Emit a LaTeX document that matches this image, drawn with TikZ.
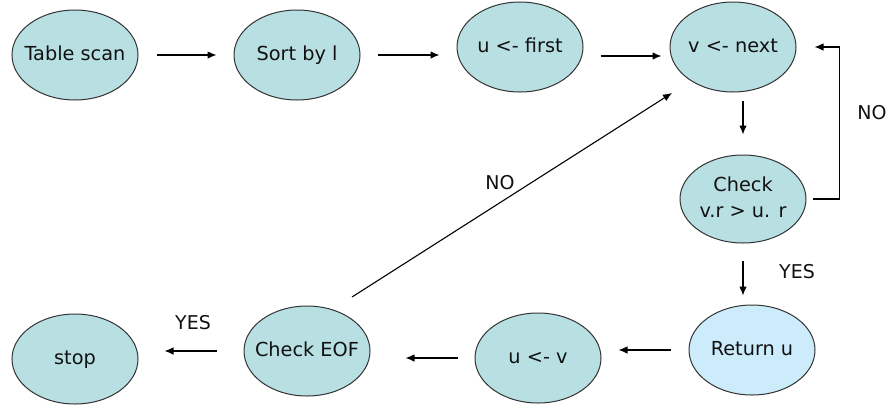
\documentclass[tikz,border=0pt]{standalone}
\usepackage{fontspec}
\setmainfont{DejaVu Sans}
\usetikzlibrary{shapes.geometric,arrows.meta}

\definecolor{stepfill}{HTML}{B8E0E3}
\definecolor{retfill}{HTML}{CCEBFB}
\definecolor{outline}{HTML}{333333}
\definecolor{ink}{HTML}{111111}

% keep the text from widening the ellipse: it is centred in a narrow box
\newcommand\intext[1]{\makebox[40pt]{\begin{tabular}{@{}c@{}}#1\end{tabular}}}

\tikzset{
  stepbox/.style={ellipse, draw=outline, line width=1pt, fill=stepfill,
    minimum width=126pt, minimum height=90pt, inner sep=0pt,
    text=ink, font=\fontsize{19.3}{26}\selectfont},
  flow/.style={draw=black, line width=1.1pt, -{Latex[length=9pt,width=7.5pt]}},
  lbl/.style={text=ink, font=\fontsize{19}{22}\selectfont, inner sep=0pt}
}

\begin{document}
\begin{tikzpicture}[x=1pt, y=-1pt]
  \useasboundingbox[fill=white] (0,0) rectangle (890,405);

  % top row
  \node[stepbox] (ts) at (75,55)  {\intext{Table scan}};
  \node[stepbox] (sl) at (297,55) {\intext{Sort by l}};
  \node[stepbox] (uf) at (520,47) {\intext{u <- first}};
  \node[stepbox] (vn) at (733,47) {\intext{v <- next}};

  % test on the right
  \node[stepbox, minimum height=88pt] (ck) at (743,199) {\intext{Check\\v.r > u. r}};

  % bottom row
  \node[stepbox, fill=retfill] (ru) at (752,350) {\intext{Return u}};
  \node[stepbox] (uv) at (538,358) {\intext{u <- v}};
  \node[stepbox] (ce) at (307,351) {\intext{Check EOF}};
  \node[stepbox] (st) at (75,359)  {\intext{stop}};

  % forward flow along the top
  \draw[flow] ([xshift=18pt]ts.east) -- ([xshift=-17pt]sl.west);
  \draw[flow] ([xshift=17pt]sl.east) -- ([xshift=-17pt]sl.east -| uf.west);
  \draw[flow] ([xshift=17pt,yshift=-9pt]uf.east) -- ([xshift=-8pt,yshift=-9pt]vn.west);

  % into the comparison
  \draw[flow] ([yshift=-8pt]vn.south -| ck.north) -- ([yshift=20pt]ck.north);

  % NO: fetch the next v
  \draw[flow] ([xshift=6pt]ck.east) -| ([xshift=43pt]vn.east) -- ([xshift=18pt]vn.east);
  \node[lbl] (no1) at (872,113) {NO};

  % YES: return u
  \draw[flow] ([yshift=-17pt]ck.south) -- ([yshift=9pt]ru.north -| ck.south);
  \node[lbl] (yes1) at (797,272) {YES};

  % bottom row, right to left
  \draw[flow] ([xshift=-18pt]ru.west) -- ([xshift=17pt]uv.east |- ru.west);
  \draw[flow] ([xshift=-17pt]uv.west) -- ([xshift=35pt]ce.east |- uv.west);
  \draw[flow] ([xshift=-27pt]ce.west) -- ([xshift=26pt]st.east |- ce.west);
  \node[lbl] (yes2) at (193,323) {YES};

  % NO: back to v <- next
  \draw[flow] ([xshift=45pt,yshift=54pt]ce.center) -- ([xshift=-61pt,yshift=-46pt]vn.center);
  \node[lbl] (no2) at (500,183) {NO};
\end{tikzpicture}
\end{document}
